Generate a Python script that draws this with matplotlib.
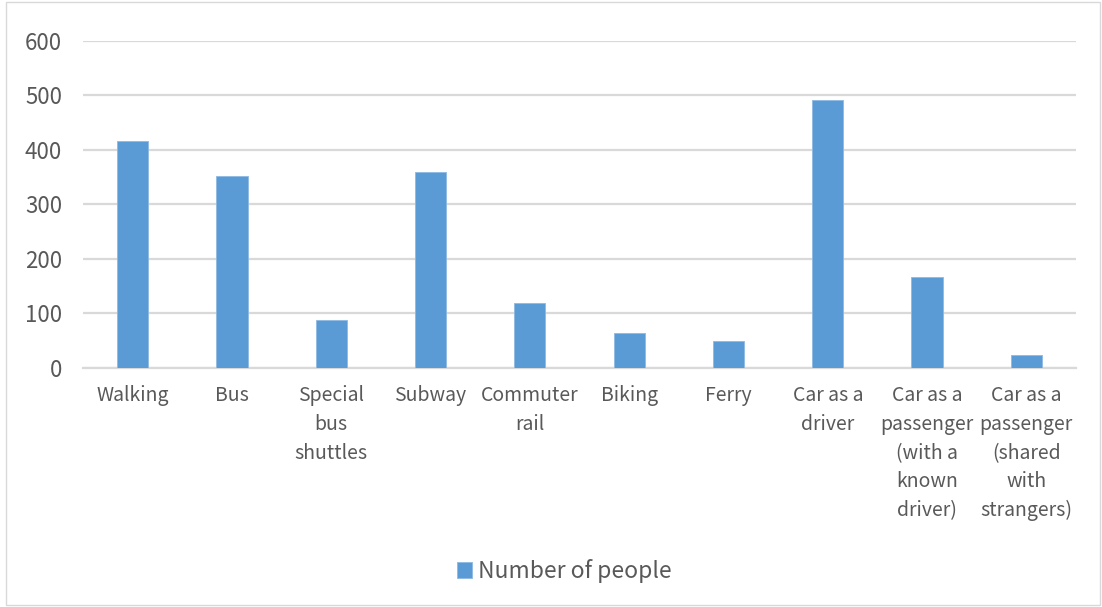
import matplotlib.pyplot as plt
from matplotlib.patches import Rectangle

categories = [
    "Walking", "Bus", "Special\nbus\nshuttles", "Subway", "Commuter\nrail",
    "Biking", "Ferry", "Car as a\ndriver",
    "Car as a\npassenger\n(with a\nknown\ndriver)",
    "Car as a\npassenger\n(shared\nwith\nstrangers)",
]
people = [417, 352, 88, 359, 120, 65, 50, 491, 166, 23]
yticks = [0, 100, 200, 300, 400, 500, 600]
series_name = "Number of people"

bar_color = "#5B9BD5"
text_color = "#595959"
grid_color = "#D9D9D9"

plt.rcParams['font.family'] = ['Noto Sans CJK SC', 'DejaVu Sans']
plt.rcParams['font.weight'] = 'light'

fig = plt.figure(figsize=(11.02, 6.07), dpi=100)
ax = fig.add_axes([83 / 1102, 1 - 368 / 607, (1076 - 83) / 1102, (368 - 40.7) / 607])

x = list(range(len(categories)))
ax.bar(x, people, width=0.315, color=bar_color, edgecolor="#8DB9E3", linewidth=0.6,
       label=series_name, zorder=3)

ax.set_xlim(-0.5, len(categories) - 0.5)
ax.set_ylim(0, 600)
ax.set_yticks(yticks)
ax.set_yticklabels([str(v) for v in yticks], fontsize=16)
ax.set_xticks(x)
ax.set_xticklabels(categories, linespacing=1.48, fontsize=14)

ax.grid(axis="y", color=grid_color, linewidth=1.6, zorder=0)
ax.set_axisbelow(True)
for side in ["top", "right", "left"]:
    ax.spines[side].set_visible(False)
ax.spines["bottom"].set_color(grid_color)
ax.spines["bottom"].set_linewidth(1.6)

ax.tick_params(axis="both", length=0, labelcolor=text_color)
ax.tick_params(axis="y", pad=15)
ax.tick_params(axis="x", pad=12.5)

leg = fig.legend(loc="center", bbox_to_anchor=(564 / 1102, 1 - 571 / 607), frameon=False,
                 fontsize=16.5, handlelength=0.65, handleheight=0.65, handletextpad=0.25)
for t in leg.get_texts():
    t.set_color(text_color)

fig.patches.append(Rectangle((6 / 1102, 0.004), 1 - 8 / 1102, 0.992,
                             transform=fig.transFigure, fill=False,
                             edgecolor="#D9D9D9", linewidth=1.0))

fig.savefig("out.png", dpi=100, facecolor="white")
